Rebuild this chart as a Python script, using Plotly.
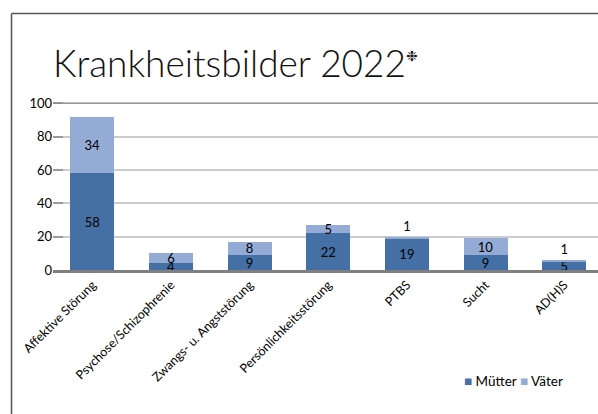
import plotly.graph_objects as go

# Diagnoses 2022, counts for mothers and fathers
categories = [
    "Affektive Störung",
    "Psychose/Schizophrenie",
    "Zwangs- u. Angststörung",
    "Persönlichkeitsstörung",
    "PTBS",
    "Sucht",
    "AD(H)S",
]
muetter = [58, 4, 9, 22, 19, 9, 5]
vaeter = [34, 6, 8, 5, 1, 10, 1]
y_ticks = [0, 20, 40, 60, 80, 100]

COL_M = "#4470a6"
COL_V = "#93abd5"
FONT = "Lato"

W, H = 598, 414
PL, PR, PT, PB = 53, 598, 100, 270  # plot area in pixels
Y_MAX = 102


def px_to_paper(x, y):
    return (x - PL) / (PR - PL), (PB - y) / (PB - PT)


fig = go.Figure()
fig.add_trace(go.Bar(
    x=categories, y=muetter, name="Mütter",
    marker=dict(color=COL_M, line=dict(width=0)),
    texttemplate="%{y}", textposition="inside",
    insidetextanchor="middle", textangle=0, constraintext="none",
    textfont=dict(family=FONT, size=13, color="#000000"),
    width=0.56,
))
fig.add_trace(go.Bar(
    x=categories, y=vaeter, name="Väter",
    marker=dict(color=COL_V, line=dict(width=0)),
    texttemplate="%{y}",
    textposition=["inside", "inside", "inside", "inside", "outside", "inside", "outside"],
    insidetextanchor="middle", textangle=0, constraintext="none",
    textfont=dict(family=FONT, size=13, color="#000000"),
    outsidetextfont=dict(family=FONT, size=13, color="#000000"),
    width=0.56,
))

# frame lines (top and left edge)
fx0, fy0 = px_to_paper(11.5, 13.5)
fx1, fy1 = px_to_paper(W + 5, H + 5)
shapes = [
    dict(type="line", xref="paper", yref="paper", x0=fx0, x1=fx1, y0=fy0, y1=fy0,
         line=dict(color="#555555", width=1.5)),
    dict(type="line", xref="paper", yref="paper", x0=fx0, x1=fx0, y0=fy0, y1=fy1,
         line=dict(color="#555555", width=1.5)),
    # thin darker rule at the axis maximum
    dict(type="line", xref="paper", yref="y", x0=0, x1=1, y0=y_ticks[-1], y1=y_ticks[-1],
         line=dict(color="#8c8c8c", width=1)),
]

# legend drawn as a compact text row
lx, ly = px_to_paper(462, 381)
legend_text = (
    f"<span style='color:{COL_M}'>■</span> Mütter "
    f"<span style='color:{COL_V}'>■</span> Väter"
)

fig.update_layout(
    template="none",
    width=W, height=H,
    margin=dict(l=PL, r=W - PR, t=PT, b=H - PB, pad=0),
    paper_bgcolor="white", plot_bgcolor="white",
    barmode="stack",
    showlegend=False,
    title=dict(
        text="Krankheitsbilder 2022<sup><span style='font-size:14px'>❉</span></sup>",
        font=dict(family=FONT, size=37, color="#111111", weight=300),
        xref="container", yref="container",
        x=53 / W, xanchor="left",
        y=1 - 64 / H, yanchor="middle",
    ),
    xaxis=dict(
        range=[-0.5, 6.43],
        tickangle=-45,
        tickfont=dict(family=FONT, size=12.5, color="#000000"),
        showgrid=False,
        showline=True, linecolor="#7f7f7f", linewidth=2.5,
        ticks="",
    ),
    yaxis=dict(
        range=[0, Y_MAX],
        tickvals=y_ticks,
        tickfont=dict(family=FONT, size=13, color="#000000"),
        showgrid=True, gridcolor="#cccccc", gridwidth=2,
        zeroline=False, showline=False,
        ticks="inside", ticklen=10, tickwidth=2, tickcolor="#9a9a9a",
    ),
    shapes=shapes,
    annotations=[
        dict(text=legend_text, xref="paper", yref="paper", x=lx, y=ly,
             xanchor="left", yanchor="middle", showarrow=False,
             font=dict(family=FONT, size=13.5, color="#000000")),
    ],
)

fig.write_html("out.html")
